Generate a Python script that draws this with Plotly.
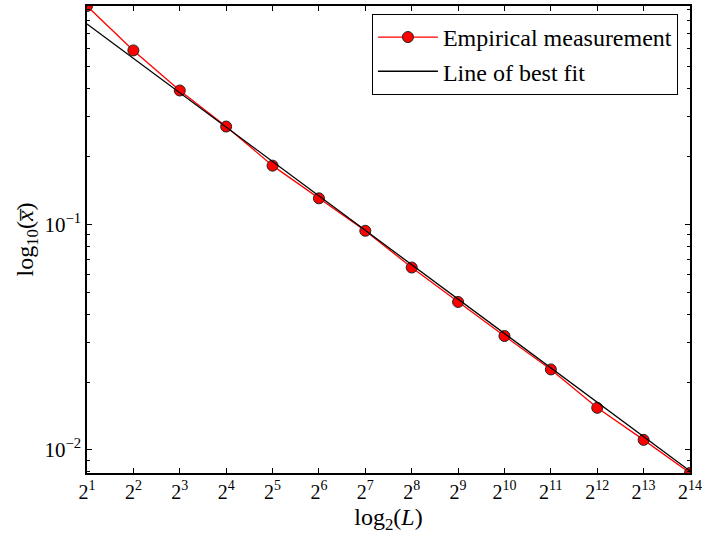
import math
import plotly.graph_objects as go

# ---- data ----
L_values = [2, 4, 8, 16, 32, 64, 128, 256, 512, 1024, 2048, 4096, 8192, 16384]
L_ticktext = ["2<sup>1</sup>", "2<sup>2</sup>", "2<sup>3</sup>", "2<sup>4</sup>", "2<sup>5</sup>",
              "2<sup>6</sup>", "2<sup>7</sup>", "2<sup>8</sup>", "2<sup>9</sup>", "2<sup>10</sup>",
              "2<sup>11</sup>", "2<sup>12</sup>", "2<sup>13</sup>", "2<sup>14</sup>"]
mean_x = [0.93, 0.591, 0.3925, 0.2716, 0.1822, 0.1305, 0.0937, 0.0644,
          0.0453, 0.0320, 0.02275, 0.01537, 0.01108, 0.0079]
fit_L = [2, 16384]
fit_vals = [0.774, 0.00806]
y_tickvals = [0.01, 0.1]
y_ticktext = ["10<sup>\u22122</sup>", "10<sup>\u22121</sup>"]

FONT = "Liberation Serif"

fig = go.Figure()
fig.add_trace(go.Scatter(
    x=L_values, y=mean_x, mode="lines+markers", name="Empirical measurement",
    line=dict(color="red", width=1.3),
    marker=dict(color="red", size=11, line=dict(color="#222222", width=1)),
    legendgroup="a", cliponaxis=True,
))
fig.add_trace(go.Scatter(
    x=fit_L, y=fit_vals, mode="lines", name="Line of best fit",
    line=dict(color="black", width=1.3), legendgroup="b",
))

fig.update_layout(
    width=702, height=537,
    margin=dict(l=87, r=12, t=6, b=64),
    paper_bgcolor="white", plot_bgcolor="white",
    font=dict(family=FONT, color="black", size=19),
    legend=dict(
        x=0.98, y=0.983, xanchor="right", yanchor="top",
        bordercolor="black", borderwidth=1, bgcolor="white",
        font=dict(family=FONT, size=24), tracegroupgap=0, itemwidth=60,
    ),
)
fig.update_xaxes(
    type="log", range=[math.log10(L_values[0]), math.log10(L_values[-1])],
    tickvals=L_values, ticktext=L_ticktext, automargin=False,
    ticks="inside", ticklen=5, tickwidth=1, tickcolor="black",
    showline=True, linecolor="black", linewidth=1.5, mirror="allticks",
    showgrid=False, zeroline=False,
    tickfont=dict(family=FONT, size=20),
    title=dict(text="log<sub>2</sub>(<i>L</i>)", font=dict(family=FONT, size=24), standoff=6),
)
fig.update_yaxes(
    type="log", range=[math.log10(min(mean_x)), math.log10(max(mean_x))],
    tickvals=y_tickvals, ticktext=y_ticktext, automargin=False,
    ticks="inside", ticklen=5, tickwidth=1, tickcolor="black",
    minor=dict(ticks="inside", ticklen=3, tickcolor="black", dtick="D1", showgrid=False),
    showline=True, linecolor="black", linewidth=1.5, mirror="allticks",
    showgrid=False, zeroline=False,
    tickfont=dict(family=FONT, size=21),
    title=dict(text="log<sub>10</sub>(<i>x\u0305</i>)", font=dict(family=FONT, size=24), standoff=4),
)

fig.write_html("out.html")
